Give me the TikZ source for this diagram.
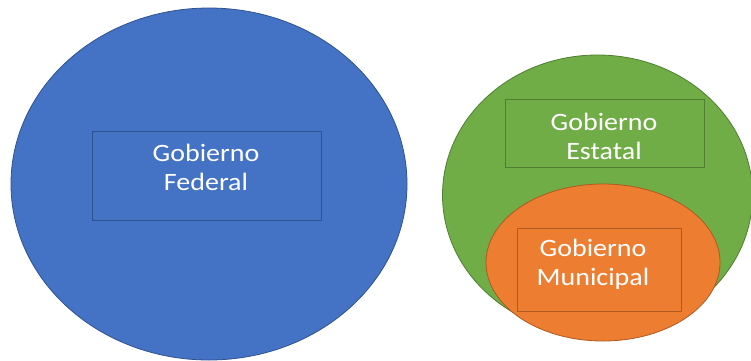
\documentclass[tikz,border=0pt]{standalone}
\usepackage{fontspec}
\usepackage{graphicx}
\setmainfont{Carlito}
\usetikzlibrary{shapes.geometric}
\definecolor{fedblue}{HTML}{4472C4}
\definecolor{fedline}{HTML}{2F528F}
\definecolor{estgreen}{HTML}{70AD47}
\definecolor{estline}{HTML}{507E32}
\definecolor{munorange}{HTML}{ED7D31}
\definecolor{munline}{HTML}{AE5A21}
\newcommand\stretchtxt[1]{\scalebox{1.12}[1]{#1}}
\begin{document}
\begin{tikzpicture}[x=1pt,y=-1pt]
\tikzset{
  circ/.style={ellipse, draw, line width=0.8pt, inner sep=0pt},
  box/.style={rectangle, draw, line width=0.8pt, inner sep=0pt},
  lbl/.style={text=white, font=\fontsize{25}{29}\selectfont, align=center, inner sep=0pt}
}
\fill[white] (0,0) rectangle (751,360);
\useasboundingbox (0,0) rectangle (751,360);
% Federal
\node[circ, fill=fedblue, draw=fedline, minimum width=396pt, minimum height=352pt] (fed) at (209,184) {};
\node[box, draw=fedline, minimum width=229pt, minimum height=89pt] (fedbox) at (206.5,175.5) {};
\node[lbl] (fedtxt) at (206,167) {\stretchtxt{Gobierno}\\\stretchtxt{Federal}};
% Estatal
\node[circ, fill=estgreen, draw=estline, minimum width=310pt, minimum height=280pt] (est) at (597.5,195) {};
\node[box, draw=estline, minimum width=199pt, minimum height=68pt] (estbox) at (604.5,133) {};
\node[lbl] (esttxt) at (604,136) {\stretchtxt{Gobierno}\\\stretchtxt{Estatal}};
% Municipal
\node[circ, fill=munorange, draw=munline, minimum width=234pt, minimum height=157pt] (mun) at (603,262.5) {};
\node[box, draw=munline, minimum width=164pt, minimum height=83pt] (munbox) at (599,269.5) {};
\node[lbl] (muntxt) at (593,264) {\stretchtxt{Gobierno}\\\stretchtxt{Municipal}};
\end{tikzpicture}
\end{document}
